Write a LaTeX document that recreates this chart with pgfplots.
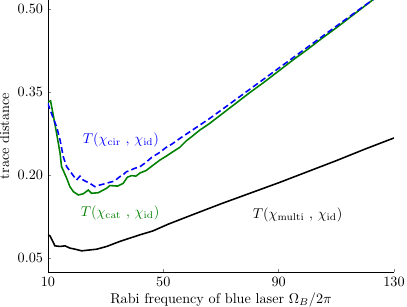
\documentclass[border=0pt]{standalone}
\usepackage{pgfplots}
\pgfplotsset{compat=1.18}
\definecolor{mygreen}{RGB}{0,128,0}
\begin{document}
\begin{tikzpicture}
\begin{axis}[name=ax, scale only axis, width=243.7pt, height=191.6pt,
  xmin=10, xmax=130, ymin=0.0247, ymax=0.5163,
  axis x line*=bottom, axis y line*=left, axis line style={-, line width=0.6pt},
  tick align=inside, major tick length=2.2pt, tick style={line width=0.5pt},
  xtick={10,50,90,130}, ytick={0.05,0.20,0.35,0.50},
  yticklabel style={/pgf/number format/.cd, fixed, fixed zerofill, precision=2},
  xlabel={Rabi frequency of blue laser $\Omega_B/2\pi$},
  xlabel style={yshift=2.5pt},
  ylabel={trace distance},
  ylabel style={yshift=-1pt},
]
% black: T(chi_multi, chi_id)
\addplot[black, line width=1.1pt] coordinates {
(10,0.092) (10.7,0.090) (11.3,0.084) (12.4,0.072) (14.2,0.071) (15.9,0.072)
(17.6,0.068) (19.4,0.066) (21.7,0.063) (23.4,0.064) (26.9,0.066) (30.4,0.071)
(34.9,0.080) (38.4,0.086) (41.9,0.092) (46.4,0.099) (51.6,0.111) (60,0.128)
(70,0.148) (80,0.167) (90,0.186) (100,0.206) (110,0.226) (120,0.247) (130,0.267)
};
% green: T(chi_cat, chi_id)
\addplot[mygreen, line width=1.1pt] coordinates {
(10,0.332) (10.9,0.334) (11.8,0.309) (13.0,0.275) (14.2,0.239) (14.7,0.215)
(15.5,0.206) (16.5,0.194) (17.6,0.179) (18.8,0.170) (20.5,0.164) (22.2,0.166)
(24.0,0.173) (25.1,0.167) (27.4,0.168) (30.3,0.176) (31.5,0.181) (34.2,0.180)
(36.1,0.185) (37.5,0.196) (39,0.199) (40.5,0.198) (42,0.204) (44,0.208)
(46,0.216) (48.8,0.227) (51,0.234) (53,0.241) (55.7,0.250) (58,0.262)
(60,0.270) (62.6,0.281) (66,0.293) (70,0.309) (75,0.329) (80,0.349)
(85,0.368) (90,0.388) (95,0.408) (100,0.427) (105,0.447) (110,0.466)
(115,0.486) (120,0.506) (125,0.526)
};
% blue dashed: T(chi_cir, chi_id)
\addplot[blue, line width=1.1pt, dash pattern=on 4.2pt off 2.3pt] coordinates {
(10,0.330) (10.1,0.327) (11.8,0.303) (13.0,0.287) (14.2,0.263) (15.3,0.233)
(16.5,0.215) (18.2,0.203) (19.9,0.191) (21.1,0.198) (22.2,0.191) (24.5,0.185)
(26.3,0.179) (28.0,0.182) (30.3,0.185) (31.5,0.187) (33,0.189) (34.9,0.197)
(36,0.200) (37.2,0.206) (38.4,0.208) (40,0.212) (41.9,0.215) (44,0.223)
(46,0.232) (48.8,0.241) (51,0.250) (53,0.256) (55.7,0.266) (58,0.274)
(60,0.281) (62.6,0.290) (66,0.302) (70,0.317) (75,0.336) (80,0.355)
(85,0.374) (90,0.393) (95,0.412) (100,0.431) (105,0.450) (110,0.469)
(115,0.488) (120,0.507) (125,0.525)
};
\node[blue] at (axis cs:35.3,0.263) {$T(\chi_{\rm cir}\ ,\,\chi_{\rm id})$};
\node[mygreen] at (axis cs:35,0.131) {$T(\chi_{\rm cat}\ ,\,\chi_{\rm id})$};
\node[black] at (axis cs:96.6,0.128) {$T(\chi_{\rm multi}\ ,\,\chi_{\rm id})$};
\end{axis}
\pgfresetboundingbox
\path ([xshift=-33.8pt,yshift=-23.95pt]ax.south west) rectangle ([xshift=9.16pt]ax.north east);
\end{tikzpicture}
\end{document}
